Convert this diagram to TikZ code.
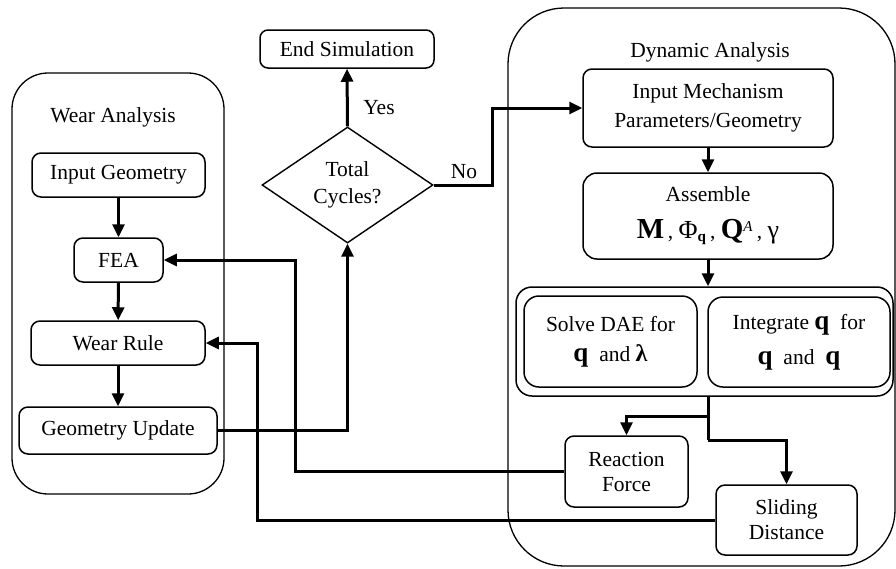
\documentclass[tikz,border=0pt]{standalone}
\usepackage{fontspec}
\setmainfont{Liberation Serif}
\usetikzlibrary{arrows.meta,shapes.geometric,calc}
\newcommand{\bigq}{{\fontsize{27}{27}\selectfont\textbf{q}}}
\tikzset{
  box/.style={draw,line width=1.5pt,rounded corners=9pt,inner sep=0pt,align=center,
    font=\fontsize{21.5}{28}\selectfont},
  bigbox/.style={draw,line width=1.3pt,inner sep=0pt},
  conn/.style={line width=3pt,-{Triangle[length=13pt,width=12pt]}},
  plain/.style={line width=3pt},
  lbl/.style={font=\fontsize{21.5}{25}\selectfont,inner sep=0pt},
}
\begin{document}
\begin{tikzpicture}[x=1pt,y=-1pt]
\useasboundingbox (0,0) rectangle (896,568);
% containers
\draw[bigbox,rounded corners=36pt] (12,73) rectangle (224,494);
\draw[bigbox,rounded corners=56pt] (508,8) rectangle (895,566);
\node[lbl] (wt) at (113,117) {Wear Analysis};
\node[lbl] (dt) at (710,52) {Dynamic Analysis};
% wear nodes
\node[box,minimum width=173pt,minimum height=44pt] (ig) at (118.5,175) {Input Geometry};
\node[box,minimum width=89pt,minimum height=44pt] (fea) at (118.5,260) {FEA};
\node[box,minimum width=174pt,minimum height=44pt] (wr) at (118,343) {Wear Rule};
\node[box,minimum width=198pt,minimum height=47pt] (gu) at (118,430.5) {Geometry Update};
% decision
\node[box,rounded corners=8pt,minimum width=174pt,minimum height=38pt] (es) at (347,49) {End Simulation};
\node[draw,line width=1.4pt,shape=diamond,inner sep=0pt,minimum width=171pt,minimum height=116pt,
  align=center,font=\fontsize{21.5}{27}\selectfont] (tc) at (347.5,185) {Total\\Cycles?};
% dynamic nodes
\node[box,minimum width=250pt,minimum height=78pt,font=\fontsize{21.5}{29}\selectfont] (imp) at (708,108) {Input Mechanism\\Parameters/Geometry};
\node[box,rounded corners=14pt,minimum width=250pt,minimum height=86pt,font=\fontsize{21.5}{37}\selectfont] (asm) at (708,216)
  {Assemble\\{\fontsize{29}{29}\selectfont\textbf{M}}\,, {\fontsize{26}{26}\selectfont Φ}\textsubscript{\textbf{q}}\,,
   {\fontsize{29}{29}\selectfont\textbf{Q}}\textsuperscript{\textit{A}}\,, {\fontsize{26}{26}\selectfont γ}};
\node[bigbox,line width=1.5pt,rounded corners=16pt,minimum width=377pt,minimum height=109pt] (grp) at (704.5,341.5) {};
\node[box,rounded corners=15pt,minimum width=173pt,minimum height=91pt,font=\fontsize{21.5}{30}\selectfont] (dae) at (610.5,341.5)
  {Solve DAE for\\\bigq\ \ and {\fontsize{24}{24}\selectfont\textbf{λ}}};
\node[box,rounded corners=15pt,minimum width=182pt,minimum height=90pt,font=\fontsize{21.5}{35}\selectfont] (integ) at (799,342)
  {Integrate \bigq\ \ for\\\bigq\ \ and\ \ \bigq};
\node[box,minimum width=123pt,minimum height=71pt,font=\fontsize{21.5}{25}\selectfont] (rf) at (626.5,471.5) {Reaction\\Force};
\node[box,minimum width=141pt,minimum height=70pt,font=\fontsize{21.5}{25}\selectfont] (sd) at (786.5,520) {Sliding\\Distance};
% helper coordinates
\coordinate (xno) at (492,185);
\coordinate (xrf) at (295,472);
\coordinate (xsd) at (257,520);
\coordinate (top) at (708,396);
\coordinate (j1) at (708,416);
\coordinate (j2) at (708,440);
% connectors
\draw[conn] (ig) -- (fea);
\draw[conn] (fea) -- (wr);
\draw[conn] (wr) -- (gu);
\draw[conn] (gu.east) -| (tc.south);
\draw[conn] (tc.north) -- (es.south);
\node[lbl] (yes) at (379,108) {Yes};
\draw[conn] (tc.east) -- (xno) |- (imp.west);
\node[lbl] (no) at (464,172) {No};
\draw[conn] (imp.south -| asm.south) -- (asm.north);
\draw[conn] (asm.south) -- (asm.south |- grp.north);
\draw[plain] (top) -- (j2);
\draw[conn] (j1) -| (rf.north);
\draw[conn] (j2) -| (sd.north);
\draw[conn] (rf.west) -- (rf.west -| xrf) |- (fea.east);
\draw[conn] (sd.west) -- (sd.west -| xsd) |- (wr.east);
\end{tikzpicture}
\end{document}
